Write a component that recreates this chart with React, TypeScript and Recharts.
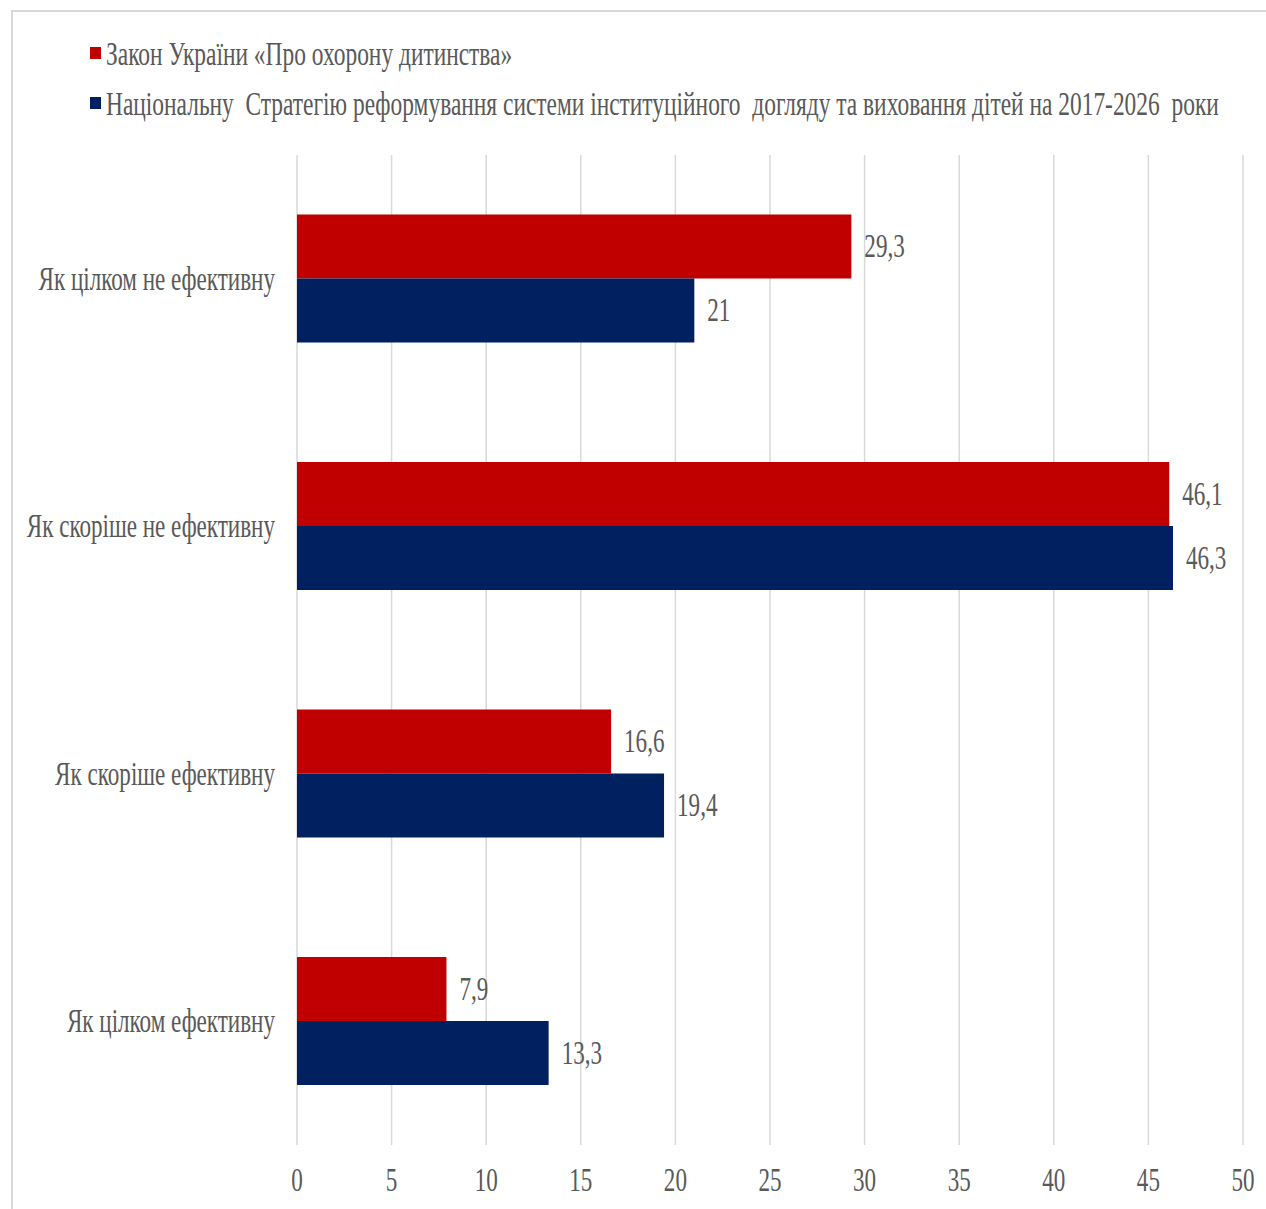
import { BarChart, Bar, XAxis, YAxis, CartesianGrid, Legend, LabelList } from "recharts";

const categories = ["Як цілком не ефективну", "Як скоріше не ефективну", "Як скоріше ефективну", "Як цілком ефективну"];
const lawValues = [29.3, 46.1, 16.6, 7.9];
const strategyValues = [21, 46.3, 19.4, 13.3];
const xTicks = [0, 5, 10, 15, 20, 25, 30, 35, 40, 45, 50];
const lawName = "Закон України «Про охорону дитинства»";
const strategyName = "Національну  Стратегію реформування системи інституційного  догляду та виховання дітей на 2017-2026  роки";

const data = categories.map((name, i) => ({ name, law: lawValues[i], strategy: strategyValues[i] }));

const FONT = "'Liberation Serif', 'Times New Roman', serif";
const TEXT = "#595959";
const SX = 0.7;

function CategoryTick({ x, y, payload }: any) {
  return (
    <text transform={`translate(${x - 14}, ${y}) scale(${SX}, 1)`} textAnchor="end" dominantBaseline="central" fontFamily={FONT} fontSize={33} fill={TEXT}>
      {payload.value}
    </text>
  );
}

function ValueTick({ x, y, payload }: any) {
  return (
    <text transform={`translate(${x}, ${y + 27}) scale(${SX}, 1)`} textAnchor="middle" dominantBaseline="central" fontFamily={FONT} fontSize={33} fill={TEXT}>
      {payload.value}
    </text>
  );
}

function BarLabel({ x, y, width, height, value }: any) {
  return (
    <text transform={`translate(${x + width + 13}, ${y + height / 2}) scale(${SX}, 1)`} dominantBaseline="central" fontFamily={FONT} fontSize={33} fill={TEXT}>
      {String(value).replace(".", ",")}
    </text>
  );
}

function LegendBox() {
  const rows = [
    { name: lawName, color: "#C00000" },
    { name: strategyName, color: "#002060" },
  ];
  return (
    <svg width={1170} height={90} style={{ display: "block", overflow: "visible" }}>
      {rows.map((r, i) => (
        <g key={r.name} transform={`translate(0, ${i * 50})`}>
          <rect x={5} y={17} width={11} height={12} fill={r.color} />
          <text transform={`translate(21, 24) scale(0.71, 1)`} dominantBaseline="central" fontFamily={FONT} fontSize={33} fill={TEXT} style={{ whiteSpace: "pre" }}>
            {r.name}
          </text>
        </g>
      ))}
    </svg>
  );
}

export default function App() {
  return (
    <div style={{ position: "absolute", left: 0, top: 0, width: 1266, height: 1209, overflow: "hidden", background: "#fff" }}>
      <div style={{ position: "absolute", left: 11, top: 10, width: 1280, height: 1260, border: "2px solid #D9D9D9", boxSizing: "border-box" }} />
      <BarChart
        width={1266}
        height={1209}
        data={data}
        layout="vertical"
        margin={{ top: 155, right: 23, bottom: 0, left: 0 }}
        barCategoryGap="24%"
        barGap={0}
      >
        <CartesianGrid horizontal={false} stroke="#D9D9D9" strokeWidth={1.5} />
        <XAxis type="number" domain={[0, 50]} ticks={xTicks} height={64} axisLine={false} tickLine={false} tick={<ValueTick />} interval={0} />
        <YAxis type="category" dataKey="name" width={297} axisLine={false} tickLine={false} tick={<CategoryTick />} interval={0} />
        <Legend
          layout="horizontal"
          verticalAlign="middle"
          align="center"
          content={() => <LegendBox />}
          wrapperStyle={{ position: "absolute", top: 30, left: 85, width: 1170 }}
        />
        <Bar dataKey="law" name={lawName} fill="#C00000" isAnimationActive={false}>
          <LabelList dataKey="law" content={<BarLabel />} />
        </Bar>
        <Bar dataKey="strategy" name={strategyName} fill="#002060" isAnimationActive={false}>
          <LabelList dataKey="strategy" content={<BarLabel />} />
        </Bar>
      </BarChart>
    </div>
  );
}
